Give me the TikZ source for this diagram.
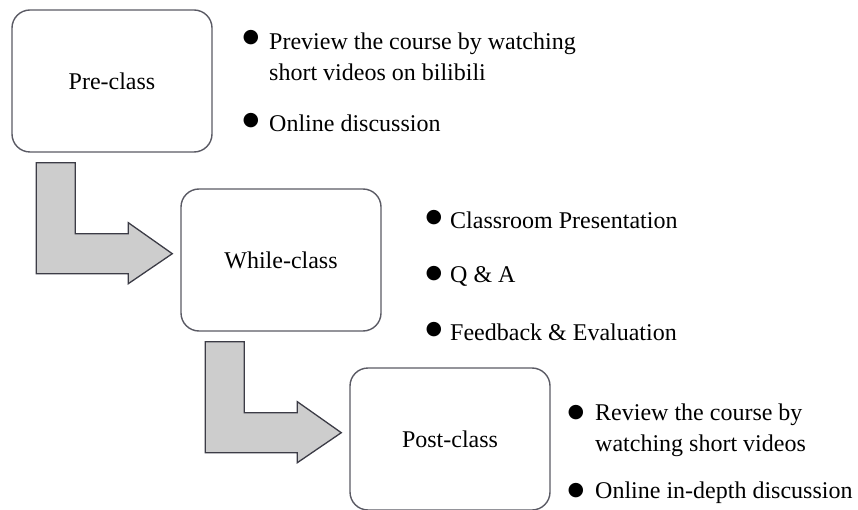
\documentclass[tikz,border=0pt]{standalone}
\usepackage{fontspec}
\setmainfont{Liberation Serif}
\newfontfamily\dotfont{DejaVu Sans}
\usepackage{tikz}
\definecolor{boxgray}{HTML}{5A5A64}
\definecolor{arrowfill}{HTML}{CDCDCD}
\definecolor{arrowline}{HTML}{3C3C46}

\begin{document}
\begin{tikzpicture}[x=1pt,y=-1pt,font=\fontsize{24}{31}\selectfont,
    stage/.style={draw=boxgray,line width=1.4pt,rounded corners=18pt,minimum width=200pt,minimum height=142pt,inner sep=0pt},
    bul/.style={inner sep=0pt,font=\dotfont\fontsize{19}{19}\selectfont},
    item/.style={anchor=west,align=left,inner sep=0pt},
    bentarrow/.style={draw=arrowline,fill=arrowfill,line width=1.3pt,line join=miter}]
    \useasboundingbox (0,0) rectangle (858,510);
    \node[stage] (pre) at (112,81) {Pre-class};
    \node[stage] (while) at (281,260) {While-class};
    \node[stage] (post) at (450,439) {Post-class};

    \draw[bentarrow] ([shift={(25,10)}]pre.south west) -- ++(39,0) -- ++(0,71) -- ++(53,0) -- ++(0,-11)
      -- ++(44,31) -- ++(-44,30) -- ++(0,-10) -- ++(-92,0) -- cycle;
    \draw[bentarrow] ([shift={(25,10)}]while.south west) -- ++(39,0) -- ++(0,71) -- ++(53,0) -- ++(0,-11)
      -- ++(44,31) -- ++(-44,30) -- ++(0,-10) -- ++(-92,0) -- cycle;

    \node[bul] (b1) at (251,38) {●};
    \node[item] (t1) at (269,56.5) {Preview the course by watching\\short videos on bilibili};
    \node[bul] (b2) at (251,121) {●};
    \node[item] (t2) at (269,123) {Online discussion};

    \node[bul] (b3) at (434,218) {●};
    \node[item] (t3) at (450,220) {Classroom Presentation};
    \node[bul] (b4) at (434,274) {●};
    \node[item] (t4) at (450,276) {Q \& A};
    \node[bul] (b5) at (434,330) {●};
    \node[item] (t5) at (450,332) {Feedback \& Evaluation};

    \node[bul] (b6) at (576,413) {●};
    \node[item] (t6) at (595,430.5) {Review the course by\\watching short videos};
    \node[bul] (b7) at (576,491) {●};
    \node[item] (t7) at (595,493) {Online in-depth discussion};
  \end{tikzpicture}
\end{document}
